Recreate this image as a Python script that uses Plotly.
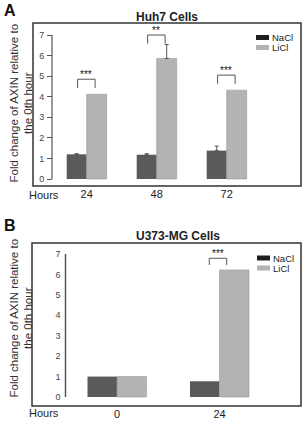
import plotly.graph_objects as go

W, H = 303, 423

# ---------------- data ----------------
hours_a = ["24", "48", "72"]
nacl_a = [1.2, 1.18, 1.38]
nacl_a_err = [0.03, 0.05, 0.22]
licl_a = [4.12, 5.86, 4.32]
licl_a_err = [None, 0.68, None]
sig_a_height = [4.85, 7.0, 5.05]
sig_a_label = ["***", "**", "***"]

hours_b = ["0", "24"]
nacl_b = [1.0, 0.77]
licl_b = [1.0, 6.22]
sig_b_idx = [1]
sig_b_height = [6.79]
sig_b_label = ["***"]

yticks = [0, 1, 2, 3, 4, 5, 6, 7]

# ---------------- styles ----------------
FONT = "Liberation Sans, Arial, sans-serif"
C_NACL = "#5a5a5a"
C_LICL = "#b3b3b3"
C_NACL_LEG = "#1e1e1e"
C_LINE = "#555555"
C_BOX = "#333333"

def px(x):
    return x / W

def py(y):
    return 1 - y / H

fig = go.Figure()

xa = list(range(len(hours_a)))
xb = list(range(len(hours_b)))

BW_A = 20 / 70
BW_B = 29.5 / 102.5

fig.add_trace(go.Bar(x=xa, y=nacl_a, name="NaCl", marker=dict(color=C_NACL, line=dict(width=0)),
                     width=BW_A, offset=-BW_A, xaxis="x", yaxis="y", showlegend=False))
fig.add_trace(go.Bar(x=xa, y=licl_a, name="LiCl", marker=dict(color=C_LICL, line=dict(width=0.6, color="#999999")),
                     width=BW_A, offset=0, xaxis="x", yaxis="y", showlegend=False))
fig.add_trace(go.Bar(x=xb, y=nacl_b, name="NaCl", marker=dict(color=C_NACL, line=dict(width=0)),
                     width=BW_B, offset=-BW_B, xaxis="x2", yaxis="y2", showlegend=False))
fig.add_trace(go.Bar(x=xb, y=licl_b, name="LiCl", marker=dict(color=C_LICL, line=dict(width=0.6, color="#999999")),
                     width=BW_B, offset=0, xaxis="x2", yaxis="y2", showlegend=False))

# error bars (upper only) at bar centres; points without an error are skipped
def err_trace(xs, vals, errs, shift):
    ex, ey, ee = [], [], []
    for x, v, e in zip(xs, vals, errs):
        if e is None:
            continue
        ex.append(x + shift)
        ey.append(v)
        ee.append(e)
    return go.Scatter(x=ex, y=ey, mode="markers", marker=dict(size=1, opacity=0),
                      error_y=dict(type="data", array=ee, arrayminus=[0]*len(ee), symmetric=False,
                                   color=C_LINE, thickness=1, width=2),
                      xaxis="x", yaxis="y", showlegend=False, hoverinfo="skip")

fig.add_trace(err_trace(xa, nacl_a, nacl_a_err, -BW_A / 2))
fig.add_trace(err_trace(xa, licl_a, licl_a_err, BW_A / 2))

shapes = []
annotations = []

# panel geometry (pixels)
A = dict(left=33, right=301, top=23, bottom=186, y0px=179, y7px=35, c0=86.7, step=70.0, axisx=52)
B = dict(left=32, right=301, top=243, bottom=406, y0px=397, y7px=254, c0=117.0, step=102.5, axisx=65.5)

def yrange(P):
    unit = (P["y0px"] - P["y7px"]) / 7.0
    return [-(P["bottom"] - P["y0px"]) / unit, (P["y0px"] - P["top"]) / unit]

def xrange(P):
    return [(P["left"] - P["c0"]) / P["step"], (P["right"] - P["c0"]) / P["step"]]

common_x = dict(showgrid=False, zeroline=False, showline=False, ticks="",
                tickfont=dict(family=FONT, size=11, color="#222"), fixedrange=True)
common_y = dict(showgrid=False, zeroline=False, showline=False, anchor="free",
                tickvals=yticks, tickfont=dict(family=FONT, size=9, color="#444"), fixedrange=True)

fig.update_layout(
    xaxis=dict(domain=[px(A["left"]), px(A["right"])], range=xrange(A), anchor="y",
               tickvals=xa, ticktext=hours_a, **common_x),
    yaxis=dict(domain=[py(A["bottom"]), py(A["top"])], range=yrange(A), position=px(A["axisx"]),
               ticks="outside", ticklen=5, tickcolor=C_LINE, tickwidth=1, ticklabelstandoff=1, **common_y),
    xaxis2=dict(domain=[px(B["left"]), px(B["right"])], range=xrange(B), anchor="y2",
                tickvals=xb, ticktext=hours_b, **common_x),
    yaxis2=dict(domain=[py(B["bottom"]), py(B["top"])], range=yrange(B), position=px(B["axisx"]),
                ticks="", ticklabelstandoff=5, **common_y),
)

# y axis lines from 0 to 7
shapes.append(dict(type="line", xref="paper", yref="y", x0=px(A["axisx"]), x1=px(A["axisx"]),
                   y0=0, y1=7, line=dict(color=C_LINE, width=1.2)))
shapes.append(dict(type="line", xref="paper", yref="y2", x0=px(B["axisx"]), x1=px(B["axisx"]),
                   y0=0, y1=7, line=dict(color=C_LINE, width=1.5)))

# boxes
for P in (A, B):
    shapes.append(dict(type="rect", xref="paper", yref="paper",
                       x0=px(P["left"]), x1=px(P["right"]), y0=py(P["bottom"]), y1=py(P["top"]),
                       line=dict(color=C_BOX, width=1.5), fillcolor="rgba(0,0,0,0)"))

# significance brackets
def bracket(xref, yref, xc, h, label, dl, dr, drop):
    x0, x1 = xc + dl, xc + dr
    shapes.append(dict(type="path", xref=xref, yref=yref,
                       path=f"M {x0} {h-drop} L {x0} {h} L {x1} {h} L {x1} {h-drop}",
                       line=dict(color=C_LINE, width=1)))
    annotations.append(dict(xref=xref, yref=yref, x=(x0 + x1) / 2, y=h, yanchor="bottom", yshift=-3,
                            text=label, showarrow=False, font=dict(family=FONT, size=10, color="#111111")))

for i, (h, lab) in enumerate(zip(sig_a_height, sig_a_label)):
    bracket("x", "y", xa[i], h, lab, -0.13, 0.12, 0.42)
for i, h, lab in zip(sig_b_idx, sig_b_height, sig_b_label):
    bracket("x2", "y2", xb[i], h, lab, -0.10, 0.07, 0.33)

# legends
def legend(ypx_list, x_sw):
    for yy, name, col in zip(ypx_list, ["NaCl", "LiCl"], [C_NACL_LEG, C_LICL]):
        shapes.append(dict(type="rect", xref="paper", yref="paper", x0=px(x_sw), x1=px(x_sw + 13),
                           y0=py(yy + 2.5), y1=py(yy - 2.5), fillcolor=col, line=dict(width=0)))
        annotations.append(dict(xref="paper", yref="paper", x=px(x_sw + 13.5), y=py(yy), xanchor="left",
                                yanchor="middle", text=name, showarrow=False,
                                font=dict(family=FONT, size=9.5, color="#222")))

legend([37.5, 47.5], 256)
legend([258, 268], 257)

# titles, panel letters, axis titles, Hours
def text(x, y, t, size, bold=False, angle=0, color="#222", xanchor="center"):
    annotations.append(dict(xref="paper", yref="paper", x=px(x), y=py(y), text=(f"<b>{t}</b>" if bold else t),
                            showarrow=False, textangle=angle, xanchor=xanchor, yanchor="middle",
                            font=dict(family=FONT, size=size, color=color)))

text(167, 17, "Huh7 Cells", 12, bold=True)
text(178, 236, "U373-MG Cells", 12, bold=True)
text(10, 10, "A", 16, bold=True, color="#111")
text(10, 225, "B", 16, bold=True, color="#111")
text(20.5, 103, "Fold change of AXIN relative to<br>the 0th hour", 11.5, angle=-90, color="#333")
text(20.5, 318, "Fold change of AXIN relative to<br>the 0th hour", 11.5, angle=-90, color="#333")
text(43.5, 195, "Hours", 11)
text(43.5, 413, "Hours", 11)

fig.update_layout(
    width=W, height=H, margin=dict(l=0, r=0, t=0, b=0),
    paper_bgcolor="white", plot_bgcolor="rgba(0,0,0,0)",
    barmode="overlay",
    shapes=shapes, annotations=annotations, showlegend=False,
)

fig.write_html("out.html")
